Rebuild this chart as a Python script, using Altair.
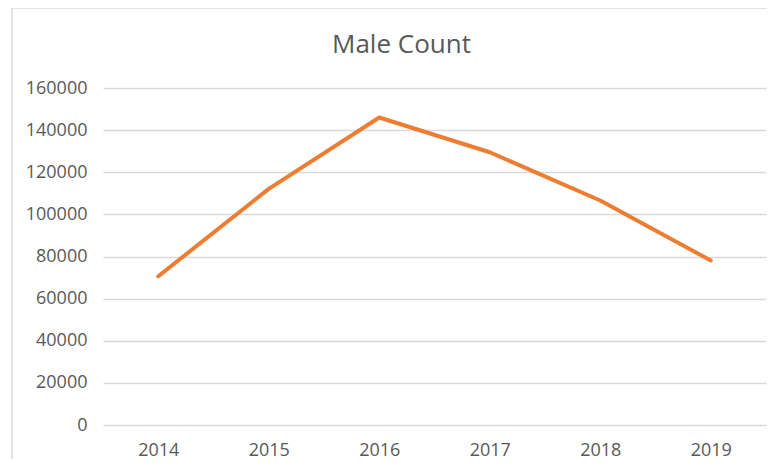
import altair as alt
import pandas as pd

years = ["2014", "2015", "2016", "2017", "2018", "2019"]
male_count = [70600, 112100, 146000, 129500, 106600, 78100]
y_ticks = [0, 20000, 40000, 60000, 80000, 100000, 120000, 140000, 160000]

df = pd.DataFrame({"Year": years, "Count": male_count})

FONT = "Open Sans"
GRAY_TEXT = "#595959"
GRID = "#d9d9d9"

line = alt.Chart(df).mark_line(
    color="#ED7D31", strokeWidth=4, strokeCap="round", strokeJoin="round"
).encode(
    x=alt.X("Year:O", sort=years, title=None,
            axis=alt.Axis(labelAngle=0, domain=False, ticks=False, grid=False,
                          labelFont=FONT, labelFontSize=18, labelColor=GRAY_TEXT,
                          labelPadding=16)),
    y=alt.Y("Count:Q", title=None,
            scale=alt.Scale(domain=[0, 160000], nice=False),
            axis=alt.Axis(values=y_ticks, format="d", domain=False, ticks=False,
                          grid=True, gridColor=GRID, gridWidth=1.3,
                          labelFont=FONT, labelFontSize=18, labelColor=GRAY_TEXT,
                          labelPadding=16)),
)

frame = alt.Chart(df).mark_rect(
    fill=None, stroke=GRID, strokeWidth=1.5, clip=False
).encode(
    x=alt.value(-91), x2=alt.value(720), y=alt.value(-80), y2=alt.value(420)
).transform_filter(alt.datum.Year == "2014")

chart = alt.layer(frame, line).properties(
    width=663,
    height=337,
    autosize=alt.AutoSizeParams(type="none"),
    padding={"left": 95, "top": 80, "right": 1, "bottom": 34},
    title=alt.TitleParams(
        "Male Count", font=FONT, fontSize=26, fontWeight="normal",
        color=GRAY_TEXT, anchor="middle", dx=-33, offset=-72,
        baseline="alphabetic",
    ),
).configure_view(stroke=None)

chart.save("out.html", embed_options={"renderer": "svg", "actions": False})
